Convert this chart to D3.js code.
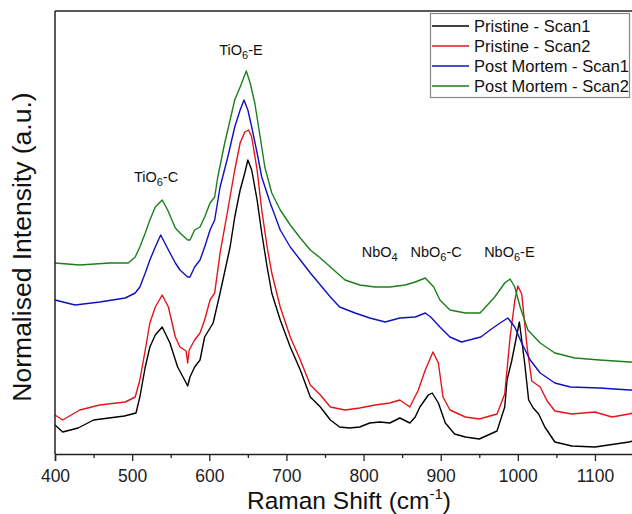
<!DOCTYPE html>
<html><head><meta charset="utf-8">
<script src="https://cdn.jsdelivr.net/npm/d3@7"></script>
<style>body{margin:0;background:#fff}svg{display:block;font-family:"Liberation Sans",Arial,sans-serif}</style>
</head><body><svg id="c" width="632" height="514"></svg>
<script>
// Raman shift (cm-1) / normalised intensity (a.u., offset)
const pristineScan1 = [[400,0.29],[410,0.22],[430,0.26],[450,0.34],[470,0.36],[490,0.38],[505,0.41],[510,0.57],[517,0.87],[523,1.07],[530,1.19],[539,1.27],[549,1.11],[559,0.87],[568,0.74],[572,0.68],[575,0.77],[581,0.87],[588,0.94],[594,1.17],[605,1.31],[614,1.61],[627,2.07],[633,2.37],[640,2.64],[646,2.81],[650,2.94],[655,2.84],[662,2.54],[668,2.21],[675,1.87],[681,1.61],[692,1.34],[705,1.07],[718,0.84],[731,0.57],[744,0.47],[750,0.41],[757,0.34],[769,0.27],[782,0.26],[795,0.27],[808,0.31],[821,0.32],[834,0.31],[847,0.36],[860,0.31],[867,0.37],[873,0.47],[884,0.59],[889,0.61],[897,0.51],[906,0.31],[918,0.20],[932,0.17],[950,0.15],[973,0.23],[983,0.47],[986,0.74],[992,0.93],[1002,1.32],[1009,0.90],[1014,0.54],[1020,0.46],[1027,0.40],[1035,0.27],[1048,0.12],[1070,0.08],[1100,0.07],[1144,0.12],[1150,0.13]];
const pristineScan2 = [[400,0.39],[410,0.34],[432,0.44],[458,0.49],[491,0.52],[504,0.57],[510,0.74],[517,1.04],[523,1.31],[530,1.47],[539,1.59],[547,1.47],[556,1.17],[562,1.07],[570,1.03],[572,0.91],[574,1.04],[581,1.14],[588,1.21],[594,1.34],[601,1.54],[607,1.61],[614,2.01],[624,2.44],[633,2.84],[640,3.11],[646,3.22],[651,3.24],[655,3.17],[662,2.84],[668,2.44],[675,2.07],[681,1.81],[692,1.47],[705,1.17],[718,0.94],[731,0.69],[744,0.59],[757,0.47],[776,0.44],[795,0.46],[815,0.49],[834,0.51],[847,0.54],[860,0.47],[871,0.64],[880,0.84],[890,1.02],[897,0.91],[903,0.57],[912,0.44],[932,0.37],[950,0.35],[973,0.40],[983,0.60],[990,1.17],[996,1.53],[1000,1.68],[1005,1.60],[1012,1.07],[1018,0.73],[1029,0.67],[1038,0.53],[1048,0.43],[1070,0.40],[1100,0.42],[1122,0.37],[1144,0.40],[1150,0.41]];
const postMortemScan1 = [[400,1.54],[426,1.49],[458,1.52],[491,1.56],[504,1.61],[510,1.67],[517,1.81],[523,1.94],[530,2.07],[537,2.19],[545,2.07],[556,1.91],[562,1.84],[572,1.77],[575,1.77],[581,1.87],[588,1.94],[594,2.07],[601,2.24],[607,2.34],[614,2.67],[624,2.97],[633,3.27],[640,3.44],[645,3.54],[650,3.44],[655,3.27],[662,3.01],[668,2.77],[679,2.51],[692,2.24],[705,2.07],[718,1.94],[731,1.81],[744,1.69],[757,1.57],[769,1.47],[789,1.41],[808,1.36],[828,1.32],[847,1.36],[867,1.37],[880,1.41],[887,1.37],[899,1.27],[912,1.17],[927,1.12],[952,1.17],[964,1.24],[977,1.31],[987,1.36],[996,1.27],[1005,1.11],[1016,0.94],[1029,0.81],[1048,0.71],[1068,0.67],[1106,0.66],[1145,0.64],[1150,0.64]];
const postMortemScan2 = [[400,1.91],[432,1.89],[471,1.91],[495,1.91],[504,1.97],[510,2.07],[517,2.21],[523,2.34],[530,2.47],[539,2.54],[546,2.44],[556,2.26],[562,2.21],[572,2.14],[575,2.14],[581,2.24],[588,2.27],[594,2.37],[601,2.51],[607,2.57],[611,2.77],[620,3.11],[627,3.34],[633,3.54],[640,3.67],[648,3.83],[653,3.71],[659,3.51],[666,3.17],[672,2.87],[681,2.61],[692,2.44],[705,2.29],[718,2.16],[731,2.04],[744,1.96],[757,1.87],[776,1.74],[795,1.69],[815,1.67],[834,1.67],[854,1.69],[867,1.72],[880,1.76],[891,1.67],[899,1.54],[912,1.44],[932,1.41],[951,1.41],[957,1.46],[970,1.57],[983,1.71],[990,1.75],[996,1.67],[1003,1.47],[1013,1.24],[1029,1.11],[1048,1.01],[1074,0.96],[1106,0.94],[1145,0.92],[1150,0.92]];
const seriesNames = ["Pristine - Scan1","Pristine - Scan2","Post Mortem - Scan1","Post Mortem - Scan2"];
const seriesColors = ["#000000","#e3141a","#1010c0","#1a801a"];
const xTicks = [400,500,600,700,800,900,1000,1100];
const xMinorTicks = [450,550,650,750,850,950,1050,1150];
// peak annotations: [base, subscript, suffix, wavenumber, intensity]
const peakLabels = [["TiO","6","-C",531,2.72],["TiO","6","-E",641,3.99],["NbO","4","",821,1.97],["NbO","6","-C",894,1.97],["NbO","6","-E",989,1.97]];

const svg = d3.select("#c");
const m = {l:55, t:11, b:454};
const x = d3.scaleLinear().domain([400,1150]).range([m.l, m.l + 750*0.7714]);
const y = d3.scaleLinear().domain([0,4.43]).range([m.b, m.t]);

const series = [pristineScan1, pristineScan2, postMortemScan1, postMortemScan2];
const line = d3.line().x(d=>x(d[0])).y(d=>y(d[1]));
svg.append("g").selectAll("path").data(series).join("path")
  .attr("d", line).attr("fill","none")
  .attr("stroke",(d,i)=>seriesColors[i]).attr("stroke-width",1.4)
  .attr("stroke-linejoin","round");

// frame
svg.append("line").attr("x1",m.l).attr("x2",640).attr("y1",m.t).attr("y2",m.t).attr("stroke","#222").attr("stroke-width",1.5);
svg.append("line").attr("x1",m.l).attr("x2",m.l).attr("y1",m.t).attr("y2",m.b).attr("stroke","#222").attr("stroke-width",1.5);

const ax = svg.append("g").attr("transform",`translate(0,${m.b})`)
  .call(d3.axisBottom(x).tickValues(xTicks).tickSize(7).tickPadding(8.5).tickFormat(d3.format("d")));
ax.select(".domain").attr("stroke","#222").attr("stroke-width",1.5);
ax.selectAll(".tick line").attr("stroke","#222").attr("stroke-width",1.3);
ax.selectAll(".tick text").attr("font-size",17.5).attr("fill","#222").attr("font-family","Liberation Sans, Arial, sans-serif");
const axm = svg.append("g").attr("transform",`translate(0,${m.b})`)
  .call(d3.axisBottom(x).tickValues(xMinorTicks).tickSize(4).tickFormat(""));
axm.select(".domain").remove();
axm.selectAll(".tick line").attr("stroke","#222").attr("stroke-width",1.3);

// axis titles
const xt = svg.append("text").attr("x",349).attr("y",509).attr("text-anchor","middle").attr("font-size",24.5).attr("fill","#111");
xt.append("tspan").text("Raman Shift (cm");
xt.append("tspan").text("-1").attr("font-size",15).attr("dy",-10);
xt.append("tspan").text(")").attr("dy",10);
svg.append("text").attr("transform","translate(31,247) rotate(-90)").attr("text-anchor","middle")
  .attr("font-size",26.5).attr("fill","#111").text("Normalised Intensity (a.u.)");

// peak labels
peakLabels.forEach(p=>{
  const t = svg.append("text").attr("x",x(p[3])).attr("y",y(p[4])).attr("text-anchor","middle").attr("font-size",14.5).attr("fill","#111");
  t.append("tspan").text(p[0]);
  t.append("tspan").text(p[1]).attr("font-size",11).attr("dy",4);
  if (p[2]) t.append("tspan").text(p[2]).attr("dy",-4);
});

// legend
const lg = svg.append("g");
lg.append("rect").attr("x",430.5).attr("y",13.5).attr("width",199).attr("height",84).attr("fill","#fff").attr("stroke","#888").attr("stroke-width",1.2);
seriesNames.forEach((n,i)=>{
  const yy = 26 + i*20;
  lg.append("line").attr("x1",432).attr("x2",469).attr("y1",yy).attr("y2",yy).attr("stroke",seriesColors[i]).attr("stroke-width",1.4);
  lg.append("text").attr("x",474).attr("y",yy+6).attr("font-size",16.5).attr("fill","#111").text(n);
});
</script></body></html>
